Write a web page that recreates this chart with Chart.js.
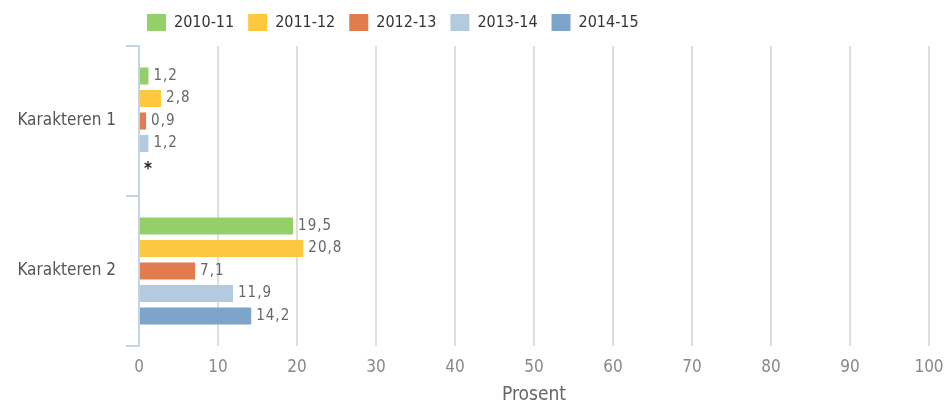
<!DOCTYPE html>
<html>
<head>
<meta charset="utf-8">
<script src="https://cdn.jsdelivr.net/npm/chart.js@4/dist/chart.umd.min.js"></script>
<style>
  html, body { margin: 0; padding: 0; background: #fff; }
  #wrap { width: 947px; height: 406px; position: relative; }
</style>
</head>
<body>
<div id="wrap"><canvas id="chart"></canvas></div>
<script>
// ---- data ----
const categories = ["Karakteren 1", "Karakteren 2"];
const seasons = ["2010-11", "2011-12", "2012-13", "2013-14", "2014-15"];
const colors = ["#95cf69", "#fec740", "#e07c4e", "#b4cadf", "#7fa4c9"];
const values2010 = [1.2, 19.5];
const values2011 = [2.8, 20.8];
const values2012 = [0.9, 7.1];
const values2013 = [1.2, 11.9];
const values2014 = [null, 14.2];
const xTicks = [0, 10, 20, 30, 40, 50, 60, 70, 80, 90, 100];

const seriesValues = [values2010, values2011, values2012, values2013, values2014];
const FONT = "'DejaVu Sans Condensed', 'DejaVu Sans', sans-serif";
const NARROW = "'Liberation Sans Narrow', 'DejaVu Sans Condensed', sans-serif";

// etiketter ved enden av søylene, "*" for manglende verdi
const valueLabels = {
  id: "valueLabels",
  afterDatasetsDraw(chart) {
    const ctx = chart.ctx;
    ctx.save();
    ctx.textBaseline = "middle";
    ctx.textAlign = "left";
    chart.data.datasets.forEach((ds, i) => {
      const meta = chart.getDatasetMeta(i);
      meta.data.forEach((bar, j) => {
        const v = ds.data[j];
        if (v === null || v === undefined) {
          ctx.fillStyle = "#222";
          ctx.font = "bold 17px " + FONT;
          ctx.fillText("*", bar.base + 5, bar.y + 4);
        } else {
          ctx.fillStyle = "#666";
          ctx.font = "15px " + FONT;
          ctx.letterSpacing = "1px";
          ctx.fillText(v.toFixed(1).replace(".", ","), bar.x + 5, bar.y);
          ctx.letterSpacing = "0px";
        }
      });
    });
    ctx.restore();
  }
};

// flytt legenden, slik som i originalen
const legendShift = {
  id: "legendShift",
  afterLayout(chart) {
    const lg = chart.legend;
    const w = lg.right - lg.left;
    lg.left = 133;
    lg.right = 133 + w;
    lg.top -= 5;
    lg.bottom -= 5;
  }
};

new Chart(document.getElementById("chart"), {
  type: "bar",
  data: {
    labels: categories,
    datasets: seasons.map((s, i) => ({
      label: s,
      data: seriesValues[i],
      backgroundColor: colors[i],
      borderWidth: 0,
      categoryPercentage: 0.75,
      barPercentage: 0.76
    }))
  },
  options: {
    indexAxis: "y",
    responsive: true,
    maintainAspectRatio: false,
    animation: false,
    layout: { padding: { left: 0, right: 0, top: 5, bottom: 0 } },
    plugins: {
      tooltip: { enabled: false },
      legend: {
        position: "top",
        align: "start",
        labels: {
          boxWidth: 19,
          boxHeight: 17,
          padding: 14,
          color: "#333",
          font: { family: FONT, size: 16 }
        }
      }
    },
    scales: {
      x: {
        min: 0,
        max: 100,
        afterBuildTicks(scale) { scale.ticks = xTicks.map(v => ({ value: v })); },
        afterFit(scale) { scale.height = 60; scale.paddingRight = 18; },
        grid: { color: "#dedede", lineWidth: 2, drawTicks: false },
        border: { display: false },
        ticks: { color: "#888", padding: 11, font: { family: NARROW, size: 17 } },
        title: { display: true, text: "Prosent", color: "#666", font: { family: FONT, size: 19 }, padding: { top: 0, bottom: 0 } }
      },
      y: {
        afterFit(scale) { scale.width = 139; },
        grid: { offset: true, drawOnChartArea: false, color: "#c5d4e4", lineWidth: 2, tickLength: 13 },
        border: { color: "#c5d4e4", width: 2 },
        ticks: { color: "#555", padding: 10, font: { family: FONT, size: 17 } }
      }
    }
  },
  plugins: [valueLabels, legendShift]
});
</script>
</body>
</html>
